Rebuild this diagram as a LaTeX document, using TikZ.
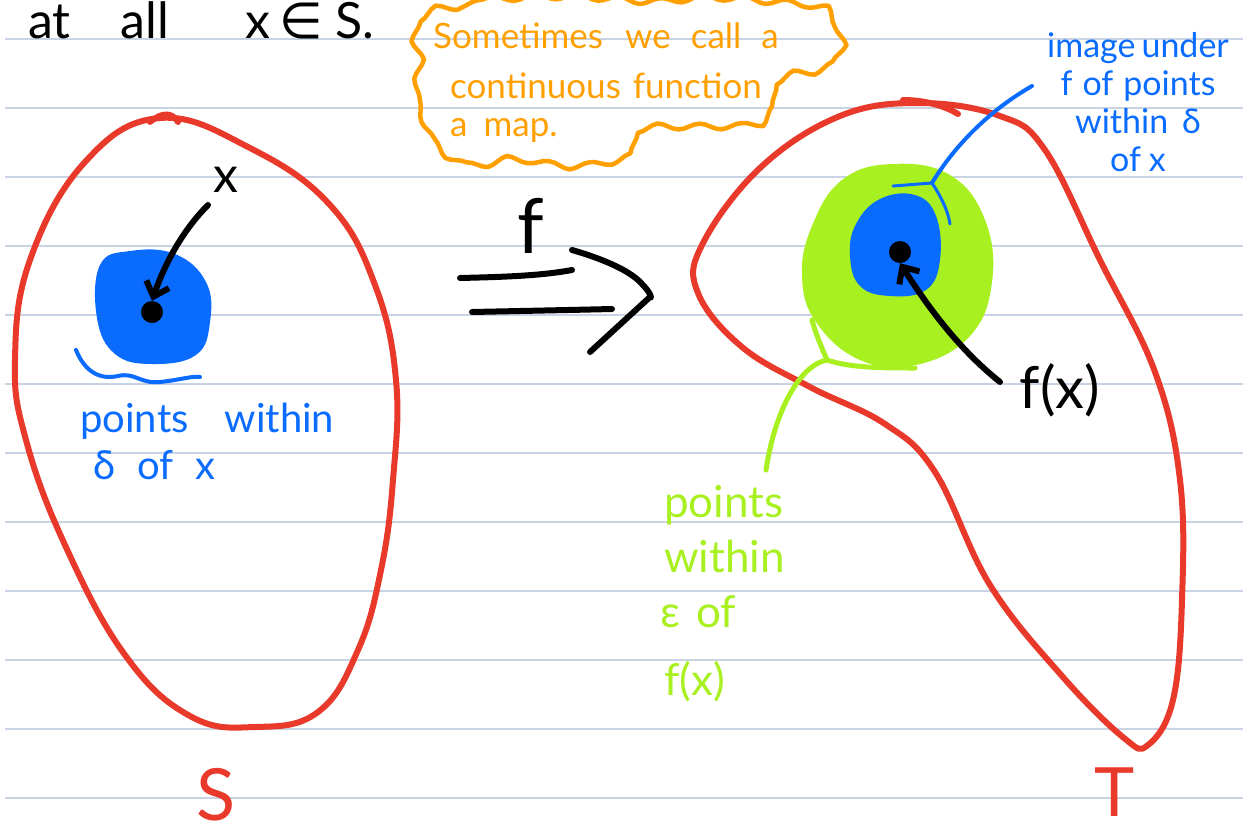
\documentclass[tikz,border=0pt]{standalone}
\usepackage{fontspec}
\setmainfont{Lato}
\newfontfamily\symfont{DejaVu Sans}
\usetikzlibrary{arrows.meta,decorations.pathmorphing}
\definecolor{rred}{HTML}{E8392A}
\definecolor{pblue}{HTML}{0A6CFF}
\definecolor{lgreen}{HTML}{A8F020}
\definecolor{orng}{HTML}{FFA000}
\definecolor{rule}{HTML}{C8D3E3}
\tikzset{
  ruleline/.style={draw=rule,line width=1.3pt},
  region/.style={draw=rred,line width=6pt,line cap=round,line join=round},
  ink/.style={line width=6pt,line cap=round,line join=round},
  tipped/.style={ink,-{Straight Barb[length=13pt,width=24pt]}},
  bluelab/.style={text=pblue,font=\fontsize{40}{44}\selectfont,inner sep=0pt},
  bluesmall/.style={text=pblue,font=\fontsize{34}{40}\selectfont,inner sep=0pt},
  greenlab/.style={text=lgreen,font=\fontsize{44}{50}\selectfont,inner sep=0pt},
  orangelab/.style={text=orng,font=\fontsize{35}{40}\selectfont,inner sep=0pt,anchor=west},
  dotstyle/.style={circle,fill=black,minimum size=22pt,inner sep=0pt},
}
\begin{document}
\begin{tikzpicture}[x=1pt,y=-1pt]
\useasboundingbox (0,0) rectangle (1243,839);
\fill[white] (0,0) rectangle (1243,839);
% ruled paper
\foreach \yy in {39,108,177,246,315,384,453,522,591,660,729,798}
  \draw[ruleline] (5,\yy) -- (1243,\yy);

% top text
\node[anchor=west,inner sep=0pt,font=\fontsize{50}{54}\selectfont] (top) at (28,20) {at\hspace{50pt}all\hspace{76pt}x\hspace{10pt}{\symfont ∈}\hspace{12pt}S.};

% orange cloud
\draw[orng,line width=4.5pt,line join=round,decorate,decoration={snake,segment length=42pt,amplitude=3pt}] plot[smooth cycle,tension=0.6] coordinates {
 (425,6) (480,0) (560,-3) (640,2) (700,-2) (760,2) (812,8) (828,22) (836,45)
 (830,62) (808,72) (775,78) (772,100) (770,112) (752,124) (700,126) (640,128)
 (630,148) (600,157) (560,160) (510,153) (467,160) (435,142) (420,112)
 (413,85) (420,62) (413,35)};
\node[orangelab] (o1) at (433,36) {Sometimes\hspace{22pt}we\hspace{20pt}call\hspace{20pt}a};
\node[orangelab] (o2) at (450,86) {continuous\hspace{12pt}function};
\node[orangelab] (o3) at (450,130) {a\hspace{16pt}map.};

% region S
\draw[region] plot[smooth cycle,tension=0.7] coordinates {
 (160,118) (250,148) (330,205) (375,285) (396,380) (393,480) (381,570) (358,650)
 (318,712) (255,727) (190,716) (125,655) (65,545) (26,440) (15,360) (30,260) (85,162)};
\draw[region] (150,122) .. controls (162,112) and (172,112) .. (178,122);

% blue disc in S
\fill[pblue] plot[smooth cycle,tension=0.7] coordinates {
 (100,265) (130,251) (175,254) (206,282) (210,322) (196,355) (152,364) (115,354) (97,318)};
\node[dotstyle] (xdot) at (152,312) {};
\draw[pblue,line width=4pt,line cap=round] (76,350) .. controls (85,372) and (100,380) .. (118,376)
   .. controls (135,372) and (140,384) .. (160,382) .. controls (180,380) and (190,376) .. (200,377);
\node[bluelab,anchor=west] (sl1) at (80,421) {points\hspace{36pt}within};
\node[bluelab,anchor=west] (sl2) at (93,465) {δ\hspace{22pt}of\hspace{22pt}x};

% x label and arrow
\node[inner sep=0pt,font=\fontsize{50}{54}\selectfont] (xlab) at (226,180) {x};
\coordinate (xs) at (208,205);
\draw[tipped] (xs) .. controls (185,228) and (166,260) .. (xdot.north);

% f arrow
\node[inner sep=0pt,font=\fontsize{76}{76}\selectfont] (flab) at (531,226) {f};
\coordinate (a1) at (460,278);
\coordinate (a2) at (572,270);
\coordinate (b1) at (472,312);
\coordinate (b2) at (612,309);
\draw[ink] (a1) .. controls (500,277) and (540,276) .. (a2);
\draw[ink] (b1) .. controls (520,311) and (570,310) .. (b2);
\coordinate (c1) at (572,250);
\coordinate (c2) at (650,297);
\coordinate (c3) at (590,352);
\draw[ink] (c1) .. controls (600,258) and (630,270) .. (642,284) .. controls (652,294) and (652,300) .. (c2)
  -- (c3);

% region T
\draw[region] plot[smooth cycle,tension=0.65] coordinates {
 (702,245) (760,168) (840,116) (920,103) (1000,116) (1045,150) (1100,260)
 (1155,372) (1180,480) (1182,600) (1173,700) (1148,745) (1124,738) (1062,676)
 (990,585) (935,472) (885,424) (810,387) (742,347) (698,293)};
\draw[region] (903,100) .. controls (925,100) and (945,106) .. (958,114);

% green disc
\fill[lgreen] plot[smooth cycle,tension=0.7] coordinates {
 (812,226) (842,180) (892,164) (950,175) (985,220) (992,282) (970,336) (916,365)
 (860,360) (816,322) (802,276)};
% inner blue
\fill[pblue] plot[smooth cycle,tension=0.7] coordinates {
 (856,224) (880,199) (915,195) (936,216) (940,260) (926,290) (890,296) (860,286) (850,256)};
\node[dotstyle] (fdot) at (900,252) {};

% blue leader
\node[bluesmall,align=center] (ir) at (1138,102) {image\hspace{6pt}under\\[-2pt]f\hspace{10pt}of\hspace{10pt}points\\[-2pt]within\hspace{14pt}δ\\[-2pt]of\hspace{8pt}x};
\coordinate (lead) at (1032,86);
\coordinate (fork) at (932,183);
\draw[pblue,line width=4pt,line cap=round] (lead) .. controls (990,110) and (955,145) .. (fork);
\draw[pblue,line width=3pt,line cap=round] (893,186) -- (fork) .. controls (940,195) and (948,210) .. (950,224);

% f(x) label and arrow
\node[inner sep=0pt,font=\fontsize{58}{60}\selectfont] (fxlab) at (1060,390) {f(x)};
\coordinate (fs) at (1000,382);
\draw[tipped] (fs) .. controls (960,350) and (930,310) .. (fdot.south);

% green bracket and label
\coordinate (g1) at (812,320);
\coordinate (g2) at (827,360);
\coordinate (g3) at (915,368);
\coordinate (g4) at (766,470);
\draw[lgreen,line width=5pt,line cap=round,line join=round] (g1) .. controls (816,335) and (822,348) .. (g2)
  .. controls (850,368) and (885,368) .. (g3);
\draw[lgreen,line width=5pt,line cap=round] (g2) .. controls (800,365) and (775,410) .. (g4);
\node[greenlab,anchor=west] (gl1) at (664,505) {points};
\node[greenlab,anchor=west] (gl2) at (664,556) {within};
\node[greenlab,anchor=west] (gl3) at (660,612) {ε\hspace{16pt}of};
\node[greenlab,anchor=west] (gl4) at (664,682) {f(x)};

% set labels
\node[text=rred,inner sep=0pt,font=\fontsize{72}{72}\selectfont] (Slab) at (216,795) {S};
\node[text=rred,inner sep=0pt,font=\fontsize{68}{68}\selectfont] (Tlab) at (1115,792) {T};
\end{tikzpicture}
\end{document}
